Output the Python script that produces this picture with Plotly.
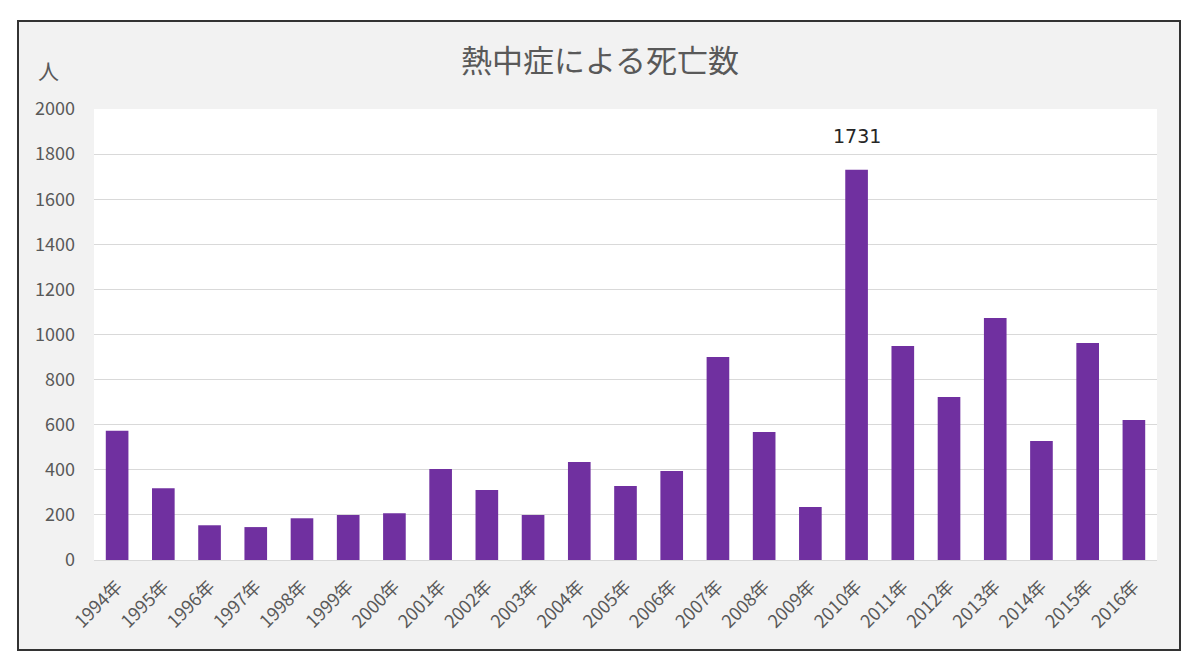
import plotly.graph_objects as go

years = ["1994年", "1995年", "1996年", "1997年", "1998年", "1999年", "2000年", "2001年",
         "2002年", "2003年", "2004年", "2005年", "2006年", "2007年", "2008年", "2009年",
         "2010年", "2011年", "2012年", "2013年", "2014年", "2015年", "2016年"]
deaths = [573, 318, 154, 146, 185, 200, 207, 404, 310, 200, 435, 328, 395, 900, 568, 235,
          1731, 949, 723, 1073, 528, 962, 621]
y_ticks = [0, 200, 400, 600, 800, 1000, 1200, 1400, 1600, 1800, 2000]
title_text = "熱中症による死亡数"
unit_text = "人"
peak_label = "1731"

W, H = 1200, 669
L, R, T, B = 94, 1200 - 1157, 109, 669 - 560
pw, ph = W - L - R, H - T - B

def px_x(x):
    return (x - L) / pw

def px_y(y):
    return (H - B - y) / ph

fig = go.Figure()
fig.add_trace(go.Bar(x=years, y=deaths, marker=dict(color="#7030a0", line=dict(width=0)),
                     hoverinfo="x+y"))

peak_i = deaths.index(max(deaths))
fig.add_annotation(x=years[peak_i], y=deaths[peak_i], text=peak_label, showarrow=False,
                   yanchor="middle", yshift=34,
                   font=dict(family="DejaVu Sans", size=19, color="#262626"))

fig.add_annotation(xref="paper", yref="paper", x=px_x(48), y=px_y(70), text=unit_text,
                   showarrow=False, xanchor="center", yanchor="middle",
                   font=dict(family="Noto Sans CJK JP", size=21, color="#595959"))

# outer frame
fig.add_shape(type="rect", xref="paper", yref="paper",
              x0=px_x(18), x1=px_x(1180), y0=px_y(650), y1=px_y(21),
              fillcolor="#f2f2f2", line=dict(color="#333333", width=2), layer="below")
fig.add_shape(type="rect", xref="paper", yref="paper", x0=0, x1=1, y0=0, y1=1,
              fillcolor="white", line=dict(width=0), layer="below")

fig.update_layout(
    width=W, height=H,
    margin=dict(l=L, r=R, t=T, b=B),
    paper_bgcolor="white", plot_bgcolor="white",
    title=dict(text=title_text, x=0.5, xref="container", xanchor="center",
               y=1 - 61.5 / H, yanchor="middle",
               font=dict(family="Noto Sans CJK JP", size=31, color="#595959")),
    bargap=0.51,
    showlegend=False,
    font=dict(family="Noto Sans CJK JP", color="#595959"),
)
fig.update_xaxes(tickangle=-45, tickfont=dict(size=18, color="#595959"),
                 showgrid=False, showline=True, linecolor="#d9d9d9", linewidth=1,
                 ticks="", ticklabelstandoff=8, fixedrange=True)
fig.update_yaxes(range=[0, 2000], tickvals=y_ticks, ticktext=[str(v) for v in y_ticks],
                 tickfont=dict(size=18, color="#595959"), showgrid=True,
                 gridcolor="#d9d9d9", gridwidth=1, zeroline=False, showline=False,
                 ticks="", ticklabelstandoff=18, fixedrange=True)

fig.write_html("out.html")
